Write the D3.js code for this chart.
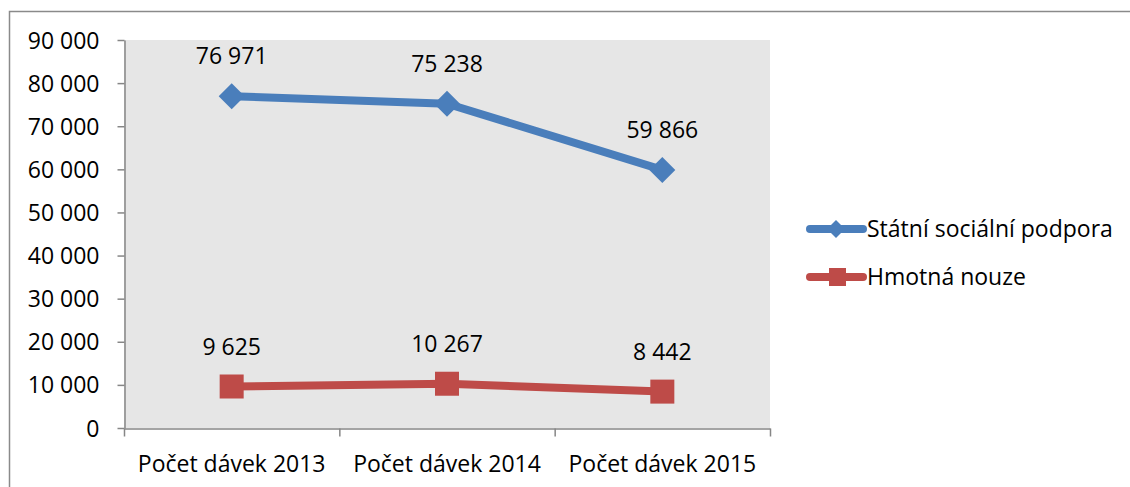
<!DOCTYPE html>
<html>
<head>
<meta charset="utf-8">
<script src="https://cdn.jsdelivr.net/npm/d3@7"></script>
<style>
  body { margin: 0; background: #fff; }
  svg text { font-family: "Open Sans", "Noto Sans", sans-serif; fill: #000; }
</style>
</head>
<body>
<svg id="chart" width="1130" height="487"></svg>
<script>
// data
var categories = ["Počet dávek 2013", "Počet dávek 2014", "Počet dávek 2015"];
var series_names = ["Státní sociální podpora", "Hmotná nouze"];
var statni_values = [76971, 75238, 59866];
var hmotna_values = [9625, 10267, 8442];
var y_ticks = [0, 10000, 20000, 30000, 40000, 50000, 60000, 70000, 80000, 90000];

var colors = ["#4a7ebb", "#be4b48"];
var series = [
    {name: series_names[0], values: statni_values, color: colors[0], marker: "diamond"},
    {name: series_names[1], values: hmotna_values, color: colors[1], marker: "square"}
];

var svg = d3.select('#chart');
var m = {top: 40, left: 124, right: 770, bottom: 428};
var font_size = '23px';

// czech thousands separator
var fmt = function(v) { return d3.format(",")(v).replace(/,/g, " "); };

// outer frame
svg.append('rect')
    .attr('x', 9.5).attr('y', 11.5)
    .attr('width', 1140).attr('height', 500)
    .attr('fill', 'none').attr('stroke', '#8a8a8a').attr('stroke-width', 1.5);

var x = d3.scaleBand()
    .domain(categories)
    .range([m.left, m.right])
    .padding(0);

var y = d3.scaleLinear()
    .domain([0, 90000])
    .range([m.bottom, m.top]);

// plot background
svg.append('rect')
    .attr('x', m.left).attr('y', m.top)
    .attr('width', m.right - m.left).attr('height', m.bottom - m.top)
    .attr('fill', '#e6e6e6');

// y axis
var y_axis = svg.append('g')
    .attr('transform', 'translate(' + (m.left + 0.5) + ',0)')
    .call(d3.axisLeft(y).tickValues(y_ticks).tickFormat(fmt).tickSizeInner(7).tickSizeOuter(0).tickPadding(18));
y_axis.selectAll('text').style('font-size', font_size).attr('dy', '0.35em');

// x axis
var x_axis = svg.append('g')
    .attr('transform', 'translate(0,' + (m.bottom + 0.5) + ')')
    .call(d3.axisBottom(x).tickSizeInner(0).tickSizeOuter(0).tickPadding(27));
x_axis.selectAll('text').style('font-size', font_size).attr('dy', '0.71em');
// ticks between categories
var bounds = [0, 1, 2, 3].map(function(i) { return m.left + i * x.bandwidth(); });
x_axis.selectAll('.sep').data(bounds).enter().append('line')
    .attr('x1', function(d) { return d + 0.5; }).attr('x2', function(d) { return d + 0.5; })
    .attr('y1', 0).attr('y2', 8);

svg.selectAll('.domain, .tick line, g line').attr('stroke', '#868686').attr('stroke-width', 1.5);

function cx(i) { return x(categories[i]) + x.bandwidth() / 2; }

var line = d3.line()
    .x(function(d, i) { return cx(i); })
    .y(function(d) { return y(d); });

function draw_marker(g, type, px, py, color) {
    if (type == "diamond") {
        g.append('path')
            .attr('d', 'M' + px + ',' + (py - 13) + 'L' + (px + 13) + ',' + py + 'L' + px + ',' + (py + 13) + 'L' + (px - 13) + ',' + py + 'Z')
            .attr('fill', color);
    } else {
        g.append('rect')
            .attr('x', px - 12).attr('y', py - 12)
            .attr('width', 24).attr('height', 24)
            .attr('fill', color);
    }
}

series.forEach(function(s) {
    var g = svg.append('g');
    g.append('path')
        .datum(s.values)
        .attr('d', line)
        .attr('fill', 'none')
        .attr('stroke', s.color)
        .attr('stroke-width', 8);

    s.values.forEach(function(v, i) {
        draw_marker(g, s.marker, cx(i), y(v), s.color);
        g.append('text')
            .attr('x', cx(i))
            .attr('y', y(v) - 40)
            .attr('dy', '0.35em')
            .attr('text-anchor', 'middle')
            .style('font-size', font_size)
            .text(fmt(v));
    });
});

// legend
series.forEach(function(s, i) {
    var ly = 229 + i * 48;
    var g = svg.append('g');
    g.append('line')
        .attr('x1', 810).attr('x2', 863)
        .attr('y1', ly).attr('y2', ly)
        .attr('stroke', s.color).attr('stroke-width', 8).attr('stroke-linecap', 'round');
    if (s.marker == "diamond") {
        g.append('path')
            .attr('d', 'M836,' + (ly - 9) + 'L845,' + ly + 'L836,' + (ly + 9) + 'L827,' + ly + 'Z')
            .attr('fill', s.color);
    } else {
        g.append('rect')
            .attr('x', 829).attr('y', ly - 9).attr('width', 17).attr('height', 18)
            .attr('fill', s.color);
    }
    g.append('text')
        .attr('x', 867).attr('y', ly)
        .attr('dy', '0.35em')
        .style('font-size', font_size)
        .text(s.name);
});
</script>
</body>
</html>
